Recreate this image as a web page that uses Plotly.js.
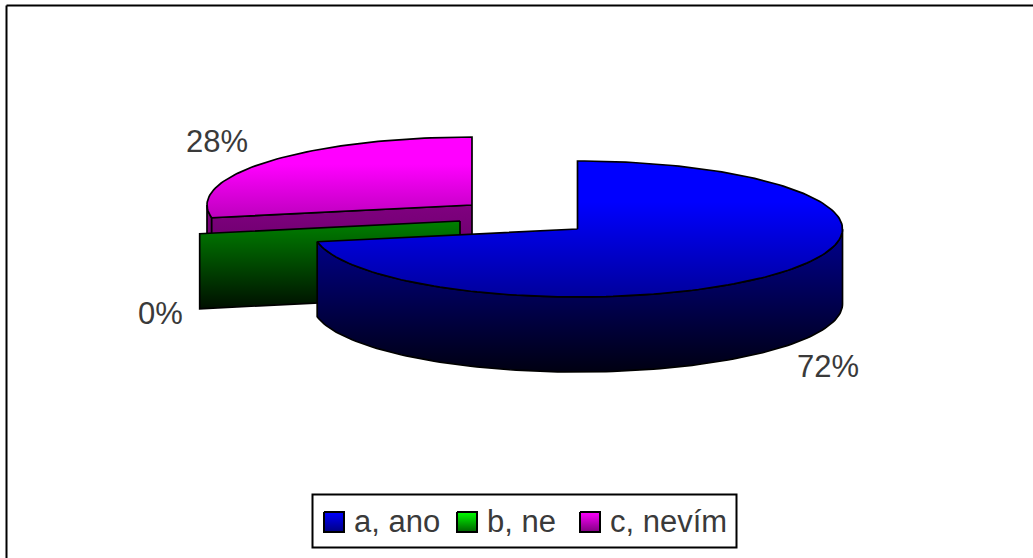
<!DOCTYPE html>
<html>
<head>
<meta charset="utf-8">
<script src="https://cdn.plot.ly/plotly-3.0.1.min.js"></script>
<style>html,body{margin:0;padding:0;background:#fff;overflow:hidden}</style>
</head>
<body>
<div id="chart" style="width:1033px;height:558px"></div>
<script>
// Survey answers, in percent
const categories = ['a, ano', 'b, ne', 'c, nevím'];
const shares = [72, 0, 28];
const valueLabels = ['72%', '0%', '28%'];

// Exploded pie drawn as an oblique projection: each slice has its own centre
const RX = 265, RY = 68, DEPTH = 75;
const centres = [[577.5, 229], [460, 221], [472, 205]];
const labelAt = [[828, 366], [160, 313], [217, 141]];
const keyX = [324, 457, 580];
const textX = [352, 485, 608];

const looks = [
  {top: [[0, '#0000ff'], [0.3, '#0000ff'], [1, '#00009c']], wall: [[0, '#000090'], [1, '#000012']], key: '#000080', keyTop: '#0000ff'},
  {top: [[0, '#008000'], [1, '#008000']], wall: [[0, '#008000'], [1, '#001000']], key: '#006000', keyTop: '#00ff00'},
  {top: [[0, '#ff00ff'], [0.2, '#ff00ff'], [1, '#7a007a']], wall: [[0, '#800080'], [1, '#5a005a']], key: '#800080', keyTop: '#ff00ff'}
];

const rad = d => d * Math.PI / 180;
const rim = (c, deg, drop) => [c[0] + RX * Math.sin(rad(deg)), c[1] - RY * Math.cos(rad(deg)) + (drop || 0)];

// Angles measured clockwise from twelve o'clock
function arc(c, from, to, drop) {
  const pts = [];
  const n = Math.max(1, Math.ceil(Math.abs(to - from) / 1.5));
  for (let i = 0; i <= n; i++) pts.push(rim(c, from + (to - from) * i / n, drop));
  return pts;
}

function face(points, scale, start, stop) {
  const closed = points.concat([points[0]]);
  return {
    type: 'scatter', mode: 'lines', hoverinfo: 'skip', showlegend: false,
    x: closed.map(p => p[0]), y: closed.map(p => p[1]),
    line: {color: '#000', width: 1.7},
    fill: 'toself',
    fillgradient: {type: 'vertical', colorscale: scale, start: start, stop: stop}
  };
}

const slices = [];
let running = 0;
shares.forEach((v, i) => {
  const from = running * 3.6;
  running += v;
  slices.push({i: i, from: from, to: running * 3.6, c: centres[i]});
});

function sliceTraces(s) {
  const out = [];
  const c = s.c, look = looks[s.i];
  const topY = c[1] - RY, botY = c[1] + RY + DEPTH;
  // outer wall: only the part of the rim on the near side of the ellipse
  const a = Math.max(s.from, 90), b = Math.min(s.to, 270);
  if (b > a) {
    const upper = arc(c, a, b, 0);
    const lower = arc(c, b, a, DEPTH);
    out.push(face(upper.concat(lower), look.wall, c[1], botY));
  }
  // cut faces seen from the front: the one that runs down and to the left
  if (s.from > 180 && s.from < 360) {
    const p = rim(c, s.from);
    const quad = [c, p, [p[0], p[1] + DEPTH], [c[0], c[1] + DEPTH]];
    out.push(face(quad, look.wall, c[1], c[1] + DEPTH + 12));
  }
  // top surface
  if (s.to > s.from) {
    out.push(face([c].concat(arc(c, s.from, s.to, 0)), look.top, topY, c[1] + RY));
  }
  return out;
}

// Painted back to front: c, b, a
const traces = [];
[2, 1, 0].forEach(i => traces.push(...sliceTraces(slices[i])));

// Legend keys
const KEY = 20, keyY = 512;
categories.forEach((name, i) => {
  const x0 = keyX[i];
  traces.push(face([[x0, keyY], [x0 + KEY, keyY], [x0 + KEY, keyY + KEY], [x0, keyY + KEY]],
    [[0, looks[i].keyTop], [1, looks[i].key]], keyY, keyY + KEY));
  traces[traces.length - 1].line.width = 2;
});

const font = {family: 'Liberation Sans, Arial, sans-serif', size: 31, color: '#3a3a3a'};
const annotations = valueLabels.map((t, i) => ({
  text: t, x: labelAt[i][0], y: labelAt[i][1], xref: 'x', yref: 'y',
  showarrow: false, font: font, xanchor: 'center', yanchor: 'middle'
})).concat(categories.map((t, i) => ({
  text: t, x: textX[i], y: 521, xref: 'x', yref: 'y',
  showarrow: false, font: font, xanchor: 'left', yanchor: 'middle'
})));

const layout = {
  width: 1033, height: 558,
  margin: {l: 0, r: 0, t: 0, b: 0},
  paper_bgcolor: '#fff', plot_bgcolor: '#fff',
  showlegend: false,
  xaxis: {range: [0, 1033], visible: false, fixedrange: true},
  yaxis: {range: [558, 0], visible: false, fixedrange: true},
  annotations: annotations,
  shapes: [
    {type: 'rect', x0: 312.5, x1: 736.5, y0: 494.5, y1: 547.5, line: {color: '#000', width: 2}, fillcolor: 'rgba(255,255,255,0)', layer: 'below'},
    {type: 'line', x0: 6.5, x1: 6.5, y0: 5.5, y1: 558, line: {color: '#000', width: 2}},
    {type: 'line', x0: 6.5, x1: 1033, y0: 5.5, y1: 5.5, line: {color: '#000', width: 2}}
  ]
};

Plotly.newPlot('chart', traces, layout, {displayModeBar: false, staticPlot: true});
</script>
</body>
</html>
